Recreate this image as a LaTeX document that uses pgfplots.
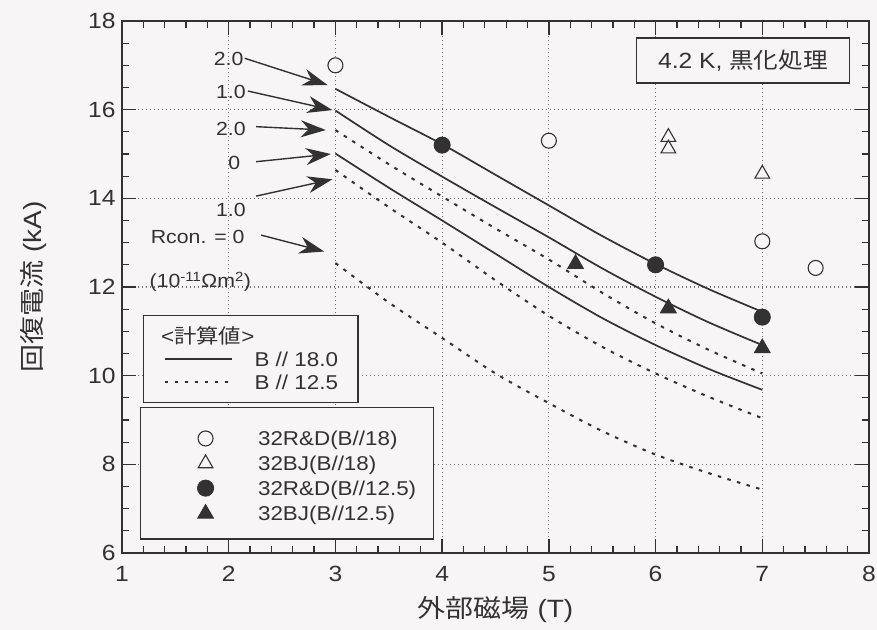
\documentclass[border=0pt]{standalone}
\usepackage{fontspec}
\setmainfont{Liberation Sans}[FakeStretch=1.12]
\newfontfamily\cjk{Noto Sans CJK JP}[FakeStretch=1.12]
\usepackage{pgfplots}
\pgfplotsset{compat=1.18}
\usetikzlibrary{arrows.meta,backgrounds}

\definecolor{ink}{RGB}{50,50,50}
\definecolor{paper}{RGB}{247,245,245}
\definecolor{gridc}{RGB}{115,115,115}

\pgfplotsset{
  frame/.style={
    scale only axis, width=747pt, height=532pt,
    xmin=1, xmax=8, ymin=6, ymax=18,
    clip=false,
  },
  calc solid/.style={ink, line width=1.7pt, smooth},
  calc dotted/.style={ink, line width=2pt, smooth, dash pattern=on 3.5pt off 6.5pt},
}

\tikzset{
  lbl/.style={anchor=east, font=\fontsize{19}{22}\selectfont, text=ink, inner sep=0pt},
  pointer/.style={ink, line width=1.4pt, -{Stealth[length=25pt, width=17pt, inset=8pt]}},
}

\begin{document}
\begin{tikzpicture}
% ---------- frame, grid and calculated curves ----------
\begin{axis}[frame,
  axis line style={ink, line width=2pt},
  xtick={1,...,8}, ytick={6,8,...,18},
  minor x tick num=4, minor y tick num=3,
  tick align=inside,
  major tick length=14pt, minor tick length=7pt,
  every tick/.style={ink, line width=1.3pt},
  grid=major,
  major grid style={gridc, line width=1.1pt, dash pattern=on 1.2pt off 2.8pt},
  /pgf/number format/assume math mode=true,
  tick label style={font=\fontsize{22}{26}\selectfont, text=ink},
  xticklabel style={yshift=-10pt},
  yticklabel style={xshift=-3pt},
  xlabel={{\cjk 外部磁場} (T)},
  ylabel={{\cjk 回復電流} (kA)},
  label style={font=\fontsize{25}{30}\selectfont, text=ink},
  x label style={at={(axis description cs:0.5,-0.107)}, anchor=center},
  y label style={at={(axis description cs:-0.119,0.5)}, anchor=center},
  legend style={at={(axis cs:1.196,11.37)}, anchor=north west,
    draw=ink, line width=1.3pt, fill=paper,
    inner xsep=20pt, inner ysep=10pt,
    font=\fontsize{20}{24}\selectfont, text=ink,
    row sep=2pt, column sep=22pt,
    nodes={inner sep=0pt, text height=18pt, text depth=3pt}},
  legend cell align=left,
  legend image code/.code={\draw[#1] (0pt,0pt) -- (67pt,0pt);},
]
\addlegendimage{empty legend}
\addlegendentry{\makebox[0pt][l]{\kern-94pt <{\cjk 計算値}>}}
\addlegendimage{calc solid}
\addlegendentry{B // 18.0}
\addlegendimage{calc dotted}
\addlegendentry{B // 12.5}

% B // 18.0, Rcon = 2.0, 1.0, 0
\addplot[calc solid, forget plot] coordinates {
  (3,16.47) (3.5,15.84) (4,15.22) (4.5,14.53) (5,13.84) (5.5,13.15) (6,12.52) (6.5,11.95) (7,11.44)};
\addplot[calc solid, forget plot] coordinates {
  (3,15.98) (3.5,15.20) (4,14.49) (4.5,13.80) (5,13.12) (5.5,12.42) (6,11.78) (6.5,11.20) (7,10.69)};
\addplot[calc solid, forget plot] coordinates {
  (3,15.01) (3.5,14.24) (4,13.50) (4.5,12.75) (5,12.00) (5.5,11.30) (6,10.69) (6.5,10.15) (7,9.68)};
% B // 12.5, Rcon = 2.0, 1.0, 0
\addplot[calc dotted, forget plot] coordinates {
  (3,15.54) (3.5,14.77) (4,14.04) (4.5,13.32) (5,12.62) (5.5,11.87) (6,11.18) (6.5,10.58) (7,10.05)};
\addplot[calc dotted, forget plot] coordinates {
  (3,14.64) (3.5,13.80) (4,13.00) (4.5,12.15) (5,11.35) (5.5,10.65) (6,10.05) (6.5,9.52) (7,9.04)};
\addplot[calc dotted, forget plot] coordinates {
  (3,12.54) (3.5,11.65) (4,10.85) (4.5,10.05) (5,9.38) (5.5,8.75) (6,8.22) (6.5,7.80) (7,7.43)};

% contact resistance labels
\node[lbl] at (axis cs:2.14,17.136) {2.0};
\node[lbl] at (axis cs:2.16,16.41) {1.0};
\node[lbl] at (axis cs:2.16,15.557) {2.0};
\node[lbl] at (axis cs:2.11,14.79) {0};
\node[lbl] at (axis cs:2.16,13.74) {1.0};
\node[lbl] at (axis cs:2.15,13.135) {Rcon. = 0};
\node[lbl] at (axis cs:2.21,12.12) {(10\textsuperscript{-11}Ωm\textsuperscript{2})};
\draw[pointer] (axis cs:2.15,17.159) -- (axis cs:2.926,16.556);
\draw[pointer] (axis cs:2.18,16.42) -- (axis cs:2.972,15.99);
\draw[pointer] (axis cs:2.257,15.616) -- (axis cs:2.910,15.54);
\draw[pointer] (axis cs:2.257,14.826) -- (axis cs:2.957,15.0);
\draw[pointer] (axis cs:2.257,14.05) -- (axis cs:2.972,14.43);
\draw[pointer] (axis cs:2.304,13.17) -- (axis cs:2.895,12.80);

\node[draw=ink, line width=1.3pt, fill=paper, minimum width=213pt, minimum height=45pt,
  font=\fontsize{22}{26}\selectfont, text=ink] at (axis cs:6.819,17.11) {4.2 K, {\cjk 黒化処理}};

\coordinate (bl) at (rel axis cs:0,0);
\coordinate (tr) at (rel axis cs:1,1);
\end{axis}

% ---------- measured recovery currents ----------
\begin{axis}[frame, hide axis,
  legend style={at={(axis cs:1.168,9.293)}, anchor=north west,
    draw=ink, line width=1.3pt, fill=paper,
    inner xsep=17pt, inner ysep=18pt,
    font=\fontsize{20}{24}\selectfont, text=ink,
    row sep=4.7pt, column sep=44.5pt,
    nodes={inner sep=0pt, text height=20pt, text depth=0pt}},
  legend cell align=left,
  legend image code/.code={\path[draw=none, fill=none] (-48pt,-7pt) rectangle (7.5pt,7pt);
    \draw[#1] plot coordinates {(0pt,-2.8pt)};},
]
\addplot[only marks, mark=*, mark size=7.5pt,
  mark options={draw=ink, fill=paper, line width=1.1pt}]
  coordinates {(3,17.0) (5,15.3) (7,13.03) (7.5,12.43)};
\addlegendentry{32R\&D(B//18)}
\addplot[only marks, mark=triangle*, mark size=8.5pt,
  mark options={draw=ink, fill=paper, line width=1.1pt}]
  coordinates {(6.12,15.38) (6.12,15.12) (7,14.55)};
\addlegendentry{32BJ(B//18)}
\addplot[only marks, mark=*, mark size=8pt,
  mark options={draw=ink, fill=ink, line width=1pt}]
  coordinates {(4,15.2) (6,12.5) (7,11.32)};
\addlegendentry{32R\&D(B//12.5)}
\addplot[only marks, mark=triangle*, mark size=9pt,
  mark options={draw=ink, fill=ink, line width=1pt}]
  coordinates {(5.25,12.52) (6.12,11.52) (7,10.62)};
\addlegendentry{32BJ(B//12.5)}
\end{axis}

\pgfresetboundingbox
\path[use as bounding box] ([xshift=-122pt,yshift=-77pt]bl) rectangle ([xshift=8pt,yshift=21pt]tr);
\begin{pgfonlayer}{background}
\fill[paper] ([xshift=-122pt,yshift=-77pt]bl) rectangle ([xshift=8pt,yshift=21pt]tr);
\end{pgfonlayer}
\end{tikzpicture}
\end{document}
